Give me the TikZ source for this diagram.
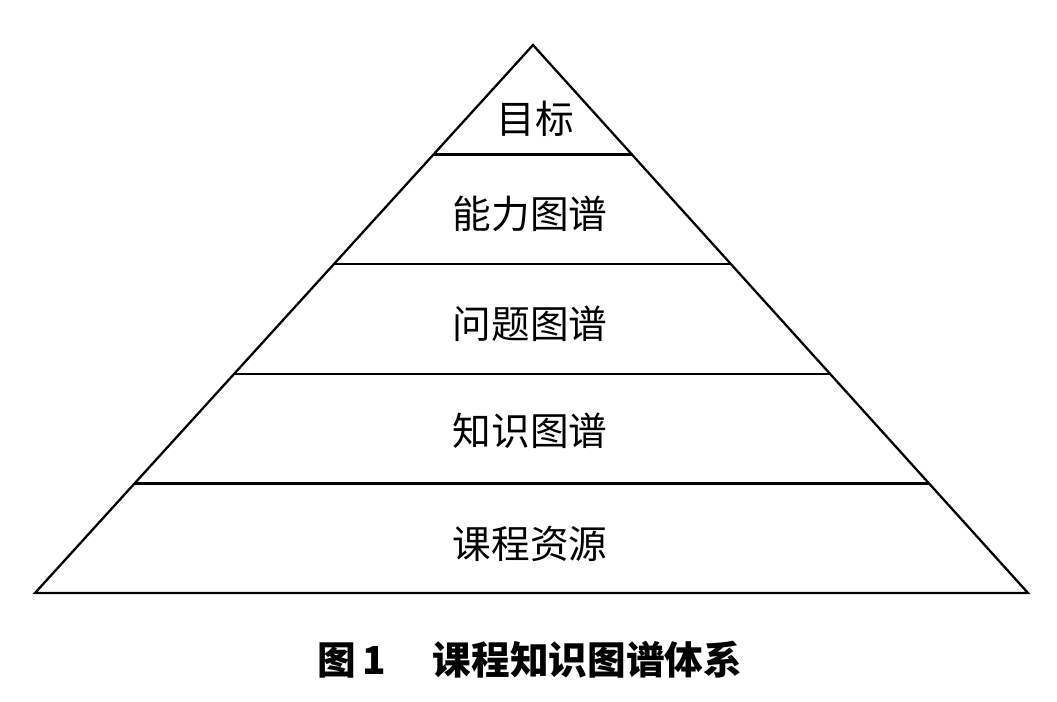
\documentclass[tikz,border=0pt]{standalone}
\usepackage{fontspec}
\setmainfont{Noto Sans CJK SC}
\newfontfamily\cjk{Noto Sans CJK SC}
\usetikzlibrary{calc, positioning}

\begin{document}
\begin{tikzpicture}[x=0.02cm,y=-0.02cm,
 edge/.style={line width=1.3pt,line join=miter},
 layer/.style={font=\cjk\fontsize{22}{26}\selectfont,inner sep=0pt},
 caption/.style={font=\cjk\bfseries\fontsize{22}{26}\selectfont,inner sep=0pt}]
 \useasboundingbox (0,0) rectangle (1057,701);

 \coordinate (apex) at (533,45);
 \coordinate (bl) at (35,593);
 \coordinate (br) at (1028,593);
 \draw[edge] (bl) -- (apex) -- (br) -- cycle;

 % horizontal cuts
 \foreach \t [count=\i] in {0.2,0.4,0.6,0.8} {
 \coordinate (L\i) at ($(apex)!\t!(bl)$);
 \coordinate (R\i) at ($(apex)!\t!(br)$);
 \draw[edge] (L\i) -- (R\i);
 }

 \node[layer] (goal) at (535,119) {目标};
 \node[layer] (ability) at (530,214) {能力图谱};
 \node[layer] (problem) at (530,324) {问题图谱};
 \node[layer] (knowledge) at (530,431) {知识图谱};
 \node[layer] (resource) at (530,544) {课程资源};

 \node[caption] (title) at (530,660) {图\,1\hspace{1.2em}课程知识图谱体系};
\end{tikzpicture}
\end{document}
